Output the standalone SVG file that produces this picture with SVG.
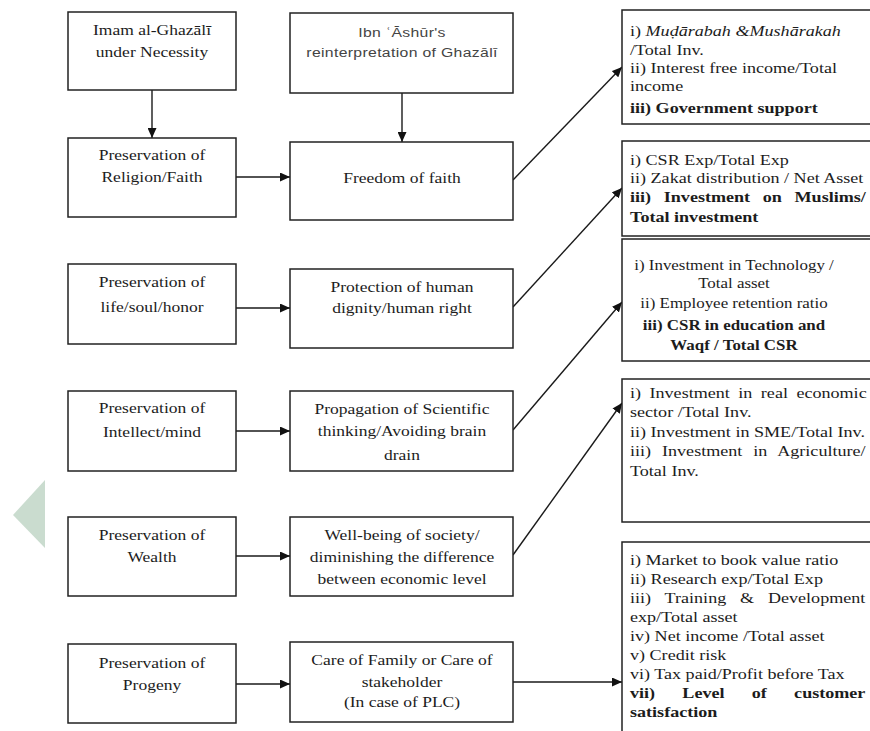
<svg xmlns="http://www.w3.org/2000/svg" width="870" height="731" viewBox="0 0 870 731">
<defs>
<style>
.box{fill:#fff;stroke:#222;stroke-width:1.5}
.t{font-family:'Liberation Serif','Times New Roman',serif;font-size:15px;fill:#1c1c1c}
.c{text-anchor:middle}
.r{font-family:'Liberation Serif','Times New Roman',serif;font-size:15.5px;fill:#1c1c1c}
.m{font-size:14.5px}
.b{font-weight:bold}
.s{font-family:'Liberation Sans',Arial,sans-serif;font-size:13.5px;fill:#444;text-anchor:middle;letter-spacing:0.3px}
.ln{stroke:#1a1a1a;stroke-width:1.4;fill:none}
</style>
<marker id="ah" markerUnits="userSpaceOnUse" markerWidth="10" markerHeight="9" refX="10" refY="4.5" orient="auto">
<path d="M0,0 L10,4.5 L0,9 z" fill="#111"/>
</marker>
</defs>
<rect width="870" height="731" fill="#fff"/>
<polygon points="45,480 13,515 45,548" fill="#cadccf"/>

<g id="connectors">
<line class="ln" x1="152" y1="90" x2="152" y2="138" marker-end="url(#ah)"/>
<line class="ln" x1="402" y1="93" x2="402" y2="142" marker-end="url(#ah)"/>
<line class="ln" x1="236" y1="177" x2="290" y2="177" marker-end="url(#ah)"/>
<line class="ln" x1="236" y1="308" x2="290" y2="308" marker-end="url(#ah)"/>
<line class="ln" x1="236" y1="431" x2="290" y2="431" marker-end="url(#ah)"/>
<line class="ln" x1="236" y1="556" x2="290" y2="556" marker-end="url(#ah)"/>
<line class="ln" x1="236" y1="684" x2="290" y2="684" marker-end="url(#ah)"/>
<line class="ln" x1="513" y1="180" x2="622" y2="67" marker-end="url(#ah)"/>
<line class="ln" x1="513" y1="307" x2="622" y2="188" marker-end="url(#ah)"/>
<line class="ln" x1="513" y1="430" x2="622" y2="302" marker-end="url(#ah)"/>
<line class="ln" x1="513" y1="555" x2="622" y2="403" marker-end="url(#ah)"/>
<line class="ln" x1="513" y1="682" x2="622" y2="682" marker-end="url(#ah)"/>
</g>

<g id="ghazali">
<rect class="box" x="68" y="12" width="168" height="78"/>
<text class="t c" transform="translate(152,35) scale(1.167,1)">Imam al-Ghazālī</text>
<text class="t c" transform="translate(152,57) scale(1.167,1)">under Necessity</text>
</g>
<g id="religion">
<rect class="box" x="68" y="138" width="168" height="79"/>
<text class="t c" transform="translate(152,160) scale(1.167,1)">Preservation of</text>
<text class="t c" transform="translate(152,182) scale(1.167,1)">Religion/Faith</text>
</g>
<g id="life">
<rect class="box" x="68" y="264" width="168" height="80"/>
<text class="t c" transform="translate(152,287) scale(1.167,1)">Preservation of</text>
<text class="t c" transform="translate(152,312) scale(1.167,1)">life/soul/honor</text>
</g>
<g id="intellect">
<rect class="box" x="68" y="391" width="168" height="80"/>
<text class="t c" transform="translate(152,413) scale(1.167,1)">Preservation of</text>
<text class="t c" transform="translate(152,437) scale(1.167,1)">Intellect/mind</text>
</g>
<g id="wealth">
<rect class="box" x="68" y="517" width="168" height="79"/>
<text class="t c" transform="translate(152,540) scale(1.167,1)">Preservation of</text>
<text class="t c" transform="translate(152,562) scale(1.167,1)">Wealth</text>
</g>
<g id="progeny">
<rect class="box" x="68" y="644" width="168" height="79"/>
<text class="t c" transform="translate(152,668) scale(1.167,1)">Preservation of</text>
<text class="t c" transform="translate(152,690) scale(1.167,1)">Progeny</text>
</g>

<g id="ibnashur">
<rect class="box" x="290" y="13" width="223" height="80"/>
<text class="s" transform="translate(402,37) scale(1.167,1)">Ibn ʿĀshūr's</text>
<text class="s" transform="translate(402,57) scale(1.167,1)">reinterpretation of Ghazālī</text>
</g>
<g id="freedom">
<rect class="box" x="290" y="142" width="223" height="78"/>
<text class="t c" transform="translate(402,183) scale(1.167,1)">Freedom of faith</text>
</g>
<g id="dignity">
<rect class="box" x="290" y="269" width="223" height="79"/>
<text class="t c" transform="translate(402,292) scale(1.167,1)">Protection of human</text>
<text class="t c" transform="translate(402,313) scale(1.167,1)">dignity/human right</text>
</g>
<g id="scientific">
<rect class="box" x="290" y="391" width="223" height="80"/>
<text class="t c" transform="translate(402,414) scale(1.167,1)">Propagation of Scientific</text>
<text class="t c" transform="translate(402,436) scale(1.167,1)">thinking/Avoiding brain</text>
<text class="t c" transform="translate(402,460) scale(1.167,1)">drain</text>
</g>
<g id="society">
<rect class="box" x="290" y="517" width="223" height="79"/>
<text class="t c" transform="translate(402,540) scale(1.167,1)">Well-being of society/</text>
<text class="t c" transform="translate(402,562) scale(1.167,1)">diminishing the difference</text>
<text class="t c" transform="translate(402,584) scale(1.167,1)">between economic level</text>
</g>
<g id="family">
<rect class="box" x="290" y="642" width="223" height="80"/>
<text class="t c" transform="translate(402,665) scale(1.167,1)">Care of Family or Care of</text>
<text class="t c" transform="translate(402,687) scale(1.167,1)">stakeholder</text>
<text class="t c" transform="translate(402,707) scale(1.167,1)">(In case of PLC)</text>
</g>

<g id="ind-faith">
<rect class="box" x="622" y="10" width="260" height="114"/>
<text class="r" transform="translate(630,36) scale(1.167,1)">i) <tspan font-style="italic">Muḍārabah &amp;Mushārakah</tspan></text>
<text class="r" transform="translate(630,55) scale(1.167,1)">/Total Inv.</text>
<text class="r" transform="translate(630,73) scale(1.167,1)">ii) Interest free income/Total</text>
<text class="r" transform="translate(630,91) scale(1.167,1)">income</text>
<text class="r b" transform="translate(630,113) scale(1.167,1)">iii) Government support</text>
</g>
<g id="ind-dignity">
<rect class="box" x="622" y="141" width="260" height="95"/>
<text class="r" transform="translate(630,165) scale(1.167,1)">i) CSR Exp/Total Exp</text>
<text class="r" transform="translate(630,183) scale(1.167,1)">ii) Zakat distribution / Net Asset</text>
<text class="r b" transform="translate(630,202) scale(1.167,1)" word-spacing="7">iii) Investment on Muslims/</text>
<text class="r b" transform="translate(630,222) scale(1.167,1)">Total investment</text>
</g>
<g id="ind-intellect">
<rect class="box" x="622" y="239" width="260" height="122"/>
<text class="r m c" transform="translate(734,270) scale(1.167,1)">i) Investment in Technology /</text>
<text class="r m c" transform="translate(734,288) scale(1.167,1)">Total asset</text>
<text class="r m c" transform="translate(734,308) scale(1.167,1)">ii) Employee retention ratio</text>
<text class="r m c b" transform="translate(734,330) scale(1.167,1)">iii) CSR in education and</text>
<text class="r m c b" transform="translate(734,350) scale(1.167,1)">Waqf / Total CSR</text>
</g>
<g id="ind-wealth">
<rect class="box" x="622" y="379" width="260" height="143"/>
<text class="r" transform="translate(630,398) scale(1.167,1)" word-spacing="3.4">i) Investment in real economic</text>
<text class="r" transform="translate(630,417) scale(1.167,1)">sector /Total Inv.</text>
<text class="r" transform="translate(630,437) scale(1.167,1)">ii) Investment in SME/Total Inv.</text>
<text class="r" transform="translate(630,456) scale(1.167,1)" word-spacing="5.5">iii) Investment in Agriculture/</text>
<text class="r" transform="translate(630,476) scale(1.167,1)">Total Inv.</text>
</g>
<g id="ind-family">
<rect class="box" x="622" y="542" width="260" height="200"/>
<text class="r" transform="translate(630,565) scale(1.167,1)">i) Market to book value ratio</text>
<text class="r" transform="translate(630,584) scale(1.167,1)">ii) Research exp/Total Exp</text>
<text class="r" transform="translate(630,603) scale(1.167,1)" word-spacing="8">iii) Training &amp; Development</text>
<text class="r" transform="translate(630,622) scale(1.167,1)">exp/Total asset</text>
<text class="r" transform="translate(630,641) scale(1.167,1)">iv) Net income /Total asset</text>
<text class="r" transform="translate(630,660) scale(1.167,1)">v) Credit risk</text>
<text class="r" transform="translate(630,679) scale(1.167,1)">vi) Tax paid/Profit before Tax</text>
<text class="r b" transform="translate(630,698) scale(1.167,1)" word-spacing="19.5">vii) Level of customer</text>
<text class="r b" transform="translate(630,717) scale(1.167,1)">satisfaction</text>
</g>
</svg>
